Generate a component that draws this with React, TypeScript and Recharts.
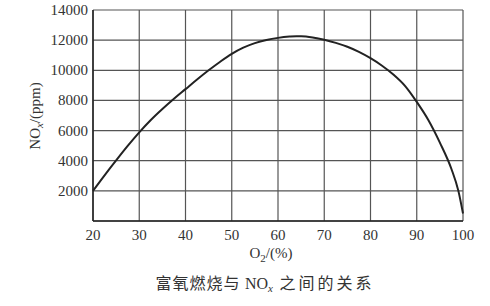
import React from 'react';
import { LineChart, Line, XAxis, YAxis, CartesianGrid } from 'recharts';

const o2Percent = [20, 22.5, 25, 27.5, 30, 32.5, 35, 37.5, 40, 42.5, 45, 47.5, 50, 52.5, 55, 57.5, 60, 62.5, 64, 65, 67.5, 70, 72.5, 75, 77.5, 80, 82.5, 85, 87.5, 90, 92.5, 95, 97.5, 99, 100];
const noxPpm = [2000, 3030, 4020, 4980, 5880, 6700, 7430, 8110, 8750, 9390, 10000, 10570, 11090, 11500, 11800, 12010, 12150, 12235, 12260, 12258, 12180, 12030, 11820, 11560, 11220, 10800, 10300, 9700, 8950, 7900, 6700, 5200, 3450, 2000, 500];
const xTicks = [20, 30, 40, 50, 60, 70, 80, 90, 100];
const yTicks = [0, 2000, 4000, 6000, 8000, 10000, 12000, 14000];

const data = o2Percent.map((x, i) => ({ o2: x, nox: noxPpm[i] }));

const serif = '"Liberation Serif", "DejaVu Serif", serif';

export default function App() {
  return (
    <div style={{ position: 'absolute', left: 0, top: 0, width: 490, height: 306, background: '#fff' }}>
      <LineChart width={490} height={306} data={data} margin={{ top: 10, right: 27, bottom: 55, left: 0 }}>
        <CartesianGrid stroke="#555" strokeWidth={1.2} horizontalValues={yTicks} verticalValues={xTicks} />
        <XAxis
          dataKey="o2"
          type="number"
          domain={[20, 100]}
          ticks={xTicks}
          height={30}
          tickLine={false}
          axisLine={{ stroke: '#222', strokeWidth: 1.5 }}
          tick={{ fill: '#333', fontSize: 15, fontFamily: serif }}
          tickMargin={2}
          interval={0}
        />
        <YAxis
          type="number"
          domain={[0, 14000]}
          ticks={yTicks}
          width={93}
          tickLine={false}
          axisLine={{ stroke: '#222', strokeWidth: 1.5 }}
          tick={(props: any) =>
            props.payload.value === 0 ? null : (
              <text x={88} y={props.y} dy={5} textAnchor="end" fill="#333" fontSize={15} fontFamily={serif}>
                {props.payload.value}
              </text>
            )
          }
          interval={0}
        />
        <Line type="monotone" dataKey="nox" stroke="#222" strokeWidth={2} dot={false} isAnimationActive={false} />
      </LineChart>
      <svg width={490} height={306} style={{ position: 'absolute', left: 0, top: 0, pointerEvents: 'none' }}>
        <text x={35} y={116} transform="rotate(-90 35 116)" textAnchor="middle" dominantBaseline="central" fill="#333" fontSize={15} fontFamily={serif}>
          NO<tspan fontStyle="italic" fontSize={11} dy={4}>x</tspan><tspan dy={-4}>/(ppm)</tspan>
        </text>
        <text x={271} y={258} textAnchor="middle" fill="#333" fontSize={15} fontFamily={serif}>
          O<tspan fontSize={11} dy={4}>2</tspan><tspan dy={-4}>/(%)</tspan>
        </text>
        <text x={265} y={289} textAnchor="middle" fill="#333" fontSize={16} fontFamily={'"Noto Sans CJK SC", sans-serif'}>
          <tspan letterSpacing={1}>富氧燃烧与 </tspan>
          <tspan fontFamily={serif}>NO</tspan>
          <tspan fontFamily={serif} fontStyle="italic" fontSize={11} dy={3}>x</tspan>
          <tspan dy={-3} letterSpacing={3}> 之间的关系</tspan>
        </text>
      </svg>
    </div>
  );
}
